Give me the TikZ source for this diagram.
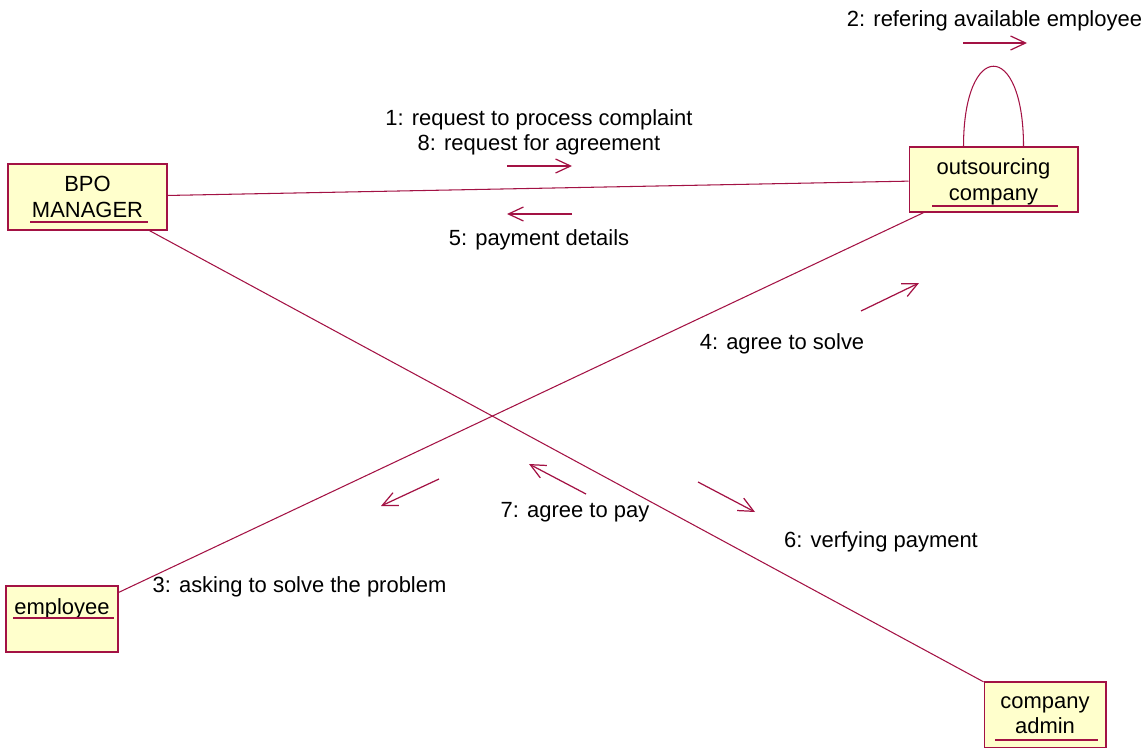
\documentclass[tikz,border=0pt]{standalone}
\usepackage{fontspec}
\setmainfont{Liberation Sans}
\usetikzlibrary{arrows.meta,calc}
\definecolor{roseline}{RGB}{163,18,68}
\definecolor{rosefill}{RGB}{255,255,204}
\tikzset{
  obj/.style={draw=roseline, fill=rosefill, line width=0.6pt, align=center,
    inner sep=0pt, text depth=0pt, font=\fontsize{12.5}{14.5}\selectfont},
  link/.style={draw=roseline, line width=0.6pt},
  msg/.style={draw=roseline, line width=0.7pt,
    -{Straight Barb[length=0.3cm,width=0.28cm]}},
  lbl/.style={anchor=base, inner sep=0pt, font=\fontsize{12.5}{14.5}\selectfont},
}

\begin{document}
\begin{tikzpicture}[x=0.02cm,y=-0.02cm]
  \useasboundingbox (0,0) rectangle (1148,747);
  \clip (0,0) rectangle (1148,747);
  % objects
  \node[obj, minimum width=3.18cm, minimum height=1.32cm] (bpo) at (87.5,197) {BPO\\MANAGER};
  \node[obj, minimum width=3.38cm, minimum height=1.30cm] (out) at (993.5,179.5) {outsourcing\\company};
  \node[obj, minimum width=2.24cm, minimum height=1.32cm] (emp) at (62,619) {employee\\\mbox{}};
  \node[obj, minimum width=2.44cm, minimum height=1.32cm] (adm) at (1045,715) {company\\admin};
  % underlined object names
  \foreach \xa/\xb/\y in {30/148/222, 932/1058/206, 13/114/618, 995/1098/740}
    \draw[link] (\xa,\y) -- (\xb,\y);
  % links
  \draw[link] (bpo) -- (out);
  \draw[link] (bpo) -- (adm);
  \draw[link] (emp) -- (out);
  \draw[link] ($(out.north)+(-30,0)$) .. controls +(0,-107) and +(0,-107) .. ($(out.north)+(30,0)$);
  % messages
  \foreach \xa/\ya/\xb/\yb in {507/166/572/166, 572/214/507/214, 963/43/1027/43,
      861/311/919/283, 439/479/381/506, 586/494/529/464, 698/482/755/512}
    \draw[msg] (\xa,\ya) -- (\xb,\yb);
  \node[lbl] (m1) at (539,125) {1: request to process complaint};
  \node[lbl] (m8) at (539,150) {8: request for agreement};
  \node[lbl] (m5) at (539,245) {5: payment details};
  \node[lbl] (m2) at (994.5,26) {2: refering available employee};
  \node[lbl] (m4) at (782,349) {4: agree to solve};
  \node[lbl] (m7) at (575,517) {7: agree to pay};
  \node[lbl] (m3) at (299.5,592.7) {3: asking to solve the problem};
  \node[lbl] (m6) at (881,547) {6: verfying payment};
\end{tikzpicture}
\end{document}
